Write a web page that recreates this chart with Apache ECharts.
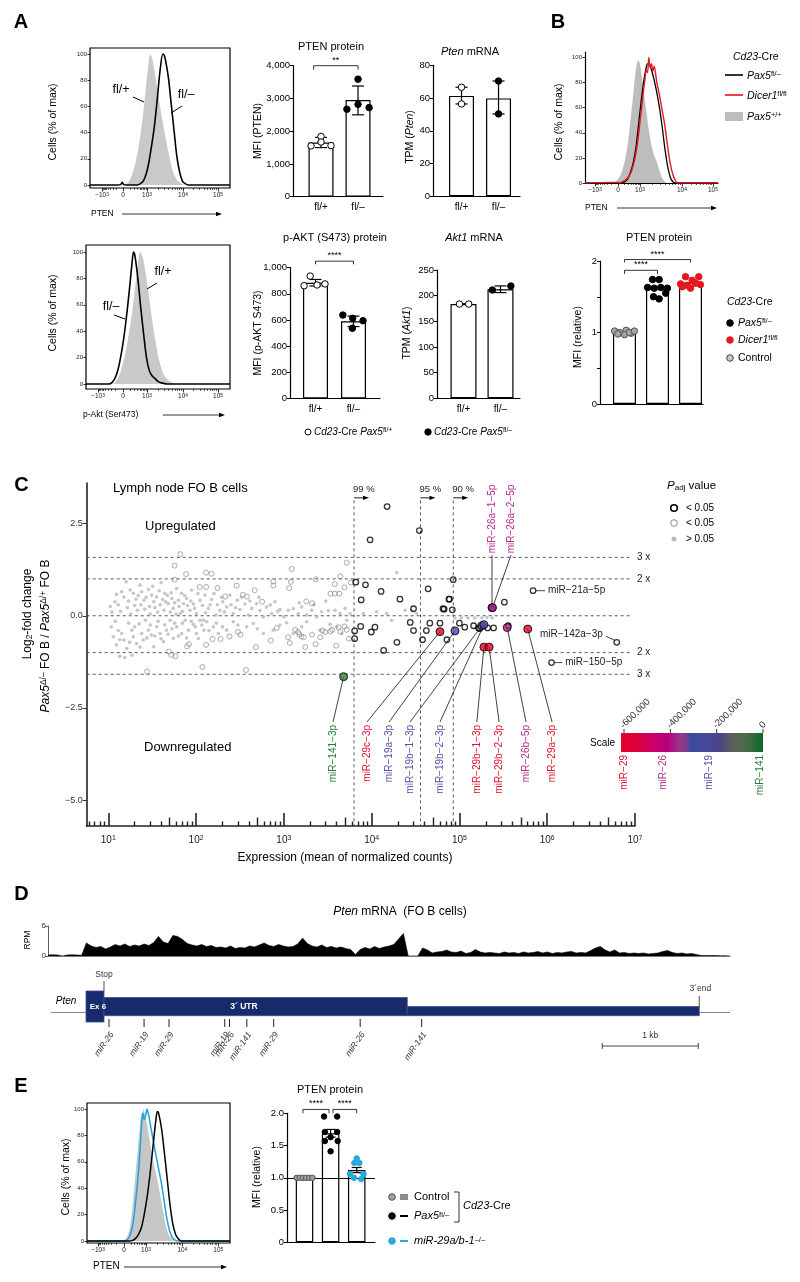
<!DOCTYPE html>
<html><head><meta charset="utf-8">
<script src="https://cdn.jsdelivr.net/npm/echarts@6/dist/echarts.min.js"></script>
<style>html,body{margin:0;padding:0;background:#fff}#c{width:800px;height:1282px}</style>
</head><body><div id="c"></div>
<script>
// ======================= DATA =======================
// ---- Panel A : PTEN protein (MFI) ----
const aCats = ['fl/+', 'fl/–'];
const aPtenMean = [1655, 2950];
const aPtenLo = [1500, 2500];
const aPtenHi = [1810, 3380];
const aPtenFlPlus = [1840, 1550, 1670, 1560];
const aPtenFlMinus = [3590, 2670, 2820, 2720];
// ---- Pten mRNA (TPM) ----
const aPtenMrnaMean = [61.3, 59.8];
const aPtenMrnaLo = [56.4, 50.3];
const aPtenMrnaHi = [66.6, 70.4];
const aPtenMrnaFlPlus = [66.6, 56.4];
const aPtenMrnaFlMinus = [70.4, 50.3];
// ---- p-AKT (S473) protein ----
const aAktMean = [885, 590];
const aAktLo = [860, 550];
const aAktHi = [910, 630];
const aAktFlPlus = [862, 936, 868, 876];
const aAktFlMinus = [638, 613, 595, 537];
// ---- Akt1 mRNA ----
const aAkt1Mean = [183.7, 212.3];
const aAkt1Lo = [183.7, 206];
const aAkt1Hi = [183.7, 219];
const aAkt1FlPlus = [183.7, 183.7];
const aAkt1FlMinus = [211, 218.8];
// ---- Panel B : PTEN relative MFI ----
const bMean = [1.0, 1.61, 1.70];
const bControl = [1.02, 1.0, 1.03, 0.99, 0.98, 0.97, 1.0, 1.02];
const bPax5 = [1.74, 1.74, 1.63, 1.62, 1.63, 1.62, 1.50, 1.47, 1.55];
const bDicer = [1.78, 1.73, 1.78, 1.68, 1.66, 1.69, 1.64, 1.62, 1.67];
// ---- Panel E : PTEN relative MFI ----
const eMean = [1.0, 1.69, 1.12];
const eLo = [1.0, 1.63, 1.08];
const eHi = [1.0, 1.75, 1.16];
const eControl = [1.0, 1.0, 1.0, 1.0, 1.0, 1.0];
const ePax5 = [1.95, 1.95, 1.71, 1.71, 1.63, 1.57, 1.57, 1.41];
const eMir29 = [1.30, 1.23, 1.23, 1.06, 1.06, 1.0, 0.98];
// ---- Flow histograms: [channel (0-100 display scale), % of max] ----
const flowTickLabels = ['−10|3', '0', '10|3', '10|4', '10|5'];
const hATopGray = [[20,0],[24,0],[26,1],[28,3],[30,8],[32,15],[34,25],[36,38],[38,55],[40,75],[42,95],[43,100],[44,98],[46,88],[48,74],[50,60],[52,48],[54,36],[56,25],[58,15],[60,8],[62,4],[64,2],[66,0.5],[68,0]];
const hATopBlack = [[0,0],[20,0],[22,0.5],[23,2],[24,0.5],[26,0],[34,0],[36,1],[38,3],[40,8],[42,17],[44,30],[46,45],[48,65],[50,87],[52,100],[53,99],[54,95],[56,82],[58,62],[60,42],[62,22],[64,10],[66,3],[68,1],[70,0],[100,0]];
const hABotGray = [[18,0],[20,1],[22,4],[24,9],[26,17],[28,27],[30,40],[32,54],[34,72],[36,90],[37.5,100],[39,97],[40,93],[42,80],[44,64],[46,48],[48,34],[50,22],[52,13],[54,7],[56,4],[58,2],[60,1],[62,0]];
const hABotBlack = [[0,0],[16,0],[18,1],[20,4],[22,10],[24,20],[26,33],[28,50],[30,70],[32,92],[33,100],[34,97],[36,80],[38,58],[40,38],[42,20],[44,10],[46,6],[48,4],[50,2],[52,1],[56,0],[100,0]];
const hBGray = [[22,0],[24,2],[26,5],[28,10],[30,18],[32,30],[34,48],[36,68],[38,88],[40,98],[41,96],[42,90],[44,75],[46,58],[48,42],[50,30],[52,22],[54,17],[56,10],[58,4],[60,1],[62,0]];
const hBBlack = [[0,0],[28,0],[30,1],[32,3],[34,8],[36,15],[38,26],[40,44],[42,63],[44,80],[46,92],[47,95],[48,95],[50,90],[52,82],[54,72],[56,60],[58,45],[60,28],[62,14],[64,5],[66,1],[68,0],[100,0]];
const hBRed = [[0,0],[20,0.5],[24,0.5],[26,0],[28,1],[30,2],[32,4],[34,7],[36,13],[38,22],[40,36],[42,55],[44,74],[45,82],[46,90],[47,88],[48,100],[49,92],[50,95],[51,89],[52,93],[54,80],[56,70],[58,58],[60,46],[62,30],[64,16],[66,7],[68,2],[70,0],[100,0]];
const hEGray = [[24,0],[26,0.5],[28,3],[30,10],[32,28],[34,52],[36,75],[37,88],[38,97],[38.7,92],[39.4,100],[40.5,96],[42,88],[44,75],[46,62],[48,52],[50,42],[52,30],[54,18],[56,8],[58,3],[60,1],[62,0]];
const hECyan = [[0,0],[26,0],[28,1],[30,4],[32,12],[34,30],[36,52],[37,68],[38,85],[39,97],[40,92],[41,95],[42,100],[43,96],[44,90],[46,78],[48,66],[50,55],[52,44],[54,30],[56,16],[58,7],[60,2],[62,0.5],[64,0],[100,0]];
const hEBlack = [[0,0],[30,0],[32,0.5],[34,2],[36,5],[38,10],[40,20],[42,33],[44,50],[46,70],[48,90],[49.2,98],[50,97],[52,86],[54,68],[56,48],[58,28],[60,13],[62,5],[64,1.5],[66,0],[100,0]];
// ---- Panel C : MA plot, [mean normalized counts, log2 fold change] ----
const cNonSig = [[16,0.92],[12.4,0.58],[11.9,0.38],[14.2,0.65],[15.1,0.51],[17.7,0.70],[19.3,0.61],[20.7,0.45],[23,0.83],[24,0.65],[25.5,0.42],[28.6,0.71],[31.2,0.56],[33,0.38],[35.5,0.51],[38,0.68],[41.6,0.44],[44,0.61],[48,0.33],[53,0.47],[55,0.2],[60,0.74],[63,0.42],[66,0.06],[68.5,0.61],[72,0.33],[78,0.47],[85,0.15],[89,0.70],[93,0.32],[101,0.06],[111,0.42],[121,-0.12],[126,0.56],[138,0.2],[150,0.44],[169,0.02],[187,0.15],[201,0.38],[223,0.24],[243,0.56],[265,0.06],[295,0.42],[316,0.17],[361,0.32],[394,0.02],[430,0.2],[490,0.33],[535,0.14],[583,-0.03],[637,0.24],[726,0.06],[793,0.38],[904,0.17],[1000,-0.03],[1125,0.15],[1282,0.19],[1462,0.06],[1596,0.24],[1820,0.02],[2075,0.15],[2366,-0.03],[2698,0.11],[3214,0.14],[3828,0.15],[4365,0.06],[4977,0.2],[5675,0.06],[19280,1.17],[23990,0.15],[28580,0.15],[32600,0.06],[8035,0.06],[11400,0.11],[14830,0.06],[16900,-0.12],
 [11.4,-0.57],[12.4,-0.79],[14.2,-0.48],[15.1,-0.66],[16.2,-0.89],[18.5,-0.39],[19.3,-0.57],[21,-0.75],[24,-0.48],[25,-0.66],[28.6,-0.39],[31,-0.52],[33,-0.84],[35.5,-0.3],[38.8,-0.48],[42.4,-0.70],[46,-0.39],[50.5,-0.12],[55,-0.61],[60,-0.3],[68.5,-0.48],[75,-0.12],[82,-0.39],[93,-0.23],[101,-0.48],[111,-0.12],[116,-0.25],[123,-0.39],[132,-0.16],[157,-0.3],[179,-0.48],[223,-0.39],[265,-0.16],[377,-0.3],[449,-0.21],[583,-0.48],[759,-0.39],[1076,-0.19],[1282,-0.48],[1820,-0.16],[2582,-0.39],[3357,-0.23],[4000,-0.3],[5200,-0.12],[4560,-0.48],[13.5,-1.1],[15.4,-1.13],[18.6,-1.07],
 [10.5,0.25],[11,0.1],[13,0.3],[13.8,0.12],[16.5,0.22],[17,0.4],[18,0.05],[20,0.28],[21.5,0.15],[22,0.55],[23.5,0.3],[26,0.18],[27,0.5],[29.5,0.25],[30,0.05],[32,0.8],[34,0.22],[36.5,0.1],[39,0.3],[40,0.9],[43,0.15],[45,0.38],[47,0.55],[51,0.1],[52,0.62],[57,0.35],[59,0.05],[64,0.25],[70,0.12],[74,0.55],[80,0.28],[87,0.4],[96,0.2],[105,0.6],[118,0.28],[128,0.08],[145,0.3],[160,0.6],[175,0.3],[195,0.5],[210,0.1],[250,0.3],[280,0.22],[330,0.5],[410,0.4],[520,0.5],[700,0.3],[850,0.12],[1500,0.35],[2200,0.3],[3000,0.4],
 [10.8,-0.3],[12,-0.15],[13,-0.4],[13.5,-0.65],[17,-0.2],[17.5,-0.72],[20,-0.3],[22.5,-0.22],[23,-0.85],[26.5,-0.12],[27.5,-0.6],[30,-0.25],[34,-0.55],[37,-0.15],[40,-0.62],[44,-0.25],[48,-0.5],[53,-0.35],[57,-0.2],[63,-0.55],[70,-0.2],[78,-0.6],[88,-0.15],[98,-0.3],[106,-0.62],[140,-0.4],[170,-0.2],[200,-0.3],[300,-0.25],[500,-0.35],[900,-0.25],[1600,-0.3],
 [89000,-0.06],[105000,-0.06],[125000,-0.06],[150000,-0.06],[180000,-0.06],[205000,-0.05],[235000,-0.06]];
const cSigWeak = [[66,1.67],[57,1.36],[77,1.13],[57,0.98],[130,1.17],[150,1.14],[1230,1.27],[5200,1.44],[110,0.78],[130,0.78],[175,0.75],[215,0.52],[290,0.82],[340,0.57],[380,0.52],[465,0.69],[565,0.38],[760,0.93],[760,0.82],[1150,0.75],[1200,0.92],[2300,0.99],[1800,0.39],[2100,0.34],[3400,0.6],[3800,0.6],[4300,0.6],[3800,0.86],[4400,1.07],[4900,0.77],[5800,0.9],
 [79,-0.83],[83,-0.77],[130,-0.79],[154,-0.63],[190,-0.63],[240,-0.56],[300,-0.44],[320,-0.51],[480,-0.85],[710,-0.67],[830,-0.33],[1120,-0.58],[1170,-0.74],[1350,-0.38],[1450,-0.44],[1500,-0.5],[1580,-0.56],[1680,-0.58],[1750,-0.85],[2090,-0.51],[2300,-0.77],[2600,-0.58],[2750,-0.4],[2950,-0.44],[3400,-0.42],[3550,-0.38],[3950,-0.81],[4200,-0.31],[4900,-0.29],[4400,-0.44],[5200,-0.38],[5500,-0.62],[49,-0.97],[52,-1.06],[58,-1.1],[27.7,-1.51],[118,-1.39],[370,-1.47]];
const cSigStrong = [[15000,2.96],[9600,2.06],[35000,2.31],[6600,0.91],[8500,0.84],[12800,0.66],[7600,0.43],[21000,0.45],[44000,0.73],[76000,0.45],[30000,0.19],[65000,0.19],[6400,-0.41],[6400,-0.62],[7500,-0.29],[9900,-0.44],[10900,-0.31],[13700,-0.94],[19400,-0.72],[27500,-0.18],[30000,-0.4],[38000,-0.65],[42000,-0.4],[46000,-0.2],[72000,-0.65],[85000,0.98],[77000,0.45],[67000,0.18],[83000,0.16],[60000,-0.2],[100000,-0.2],[115000,-0.31],[145000,-0.27],[165000,-0.33],[170000,-0.35],[210000,-0.33],[245000,-0.33],[325000,0.37],[360000,-0.27],[690000,0.68],[6200000,-0.72],[1120000,-1.27]];
const cMirNames = ['miR−141−3p','miR−29c−3p','miR−19a−3p','miR−19b−1−3p','miR−19b−2−3p','miR−29b−1−3p','miR−29b−2−3p','miR−26b−5p','miR−29a−3p','miR−26a−1−5p','miR−26a−2−5p'];
const cMirFamily = ['141','29','19','19','19','29','29','26','29','26','26'];
const cMirExpr = [4800, 60000, 89000, 180000, 190000, 190000, 218000, 350000, 600000, 235000, 238000];
const cMirLfc = [-1.65, -0.43, -0.41, -0.27, -0.24, -0.85, -0.85, -0.32, -0.36, 0.22, 0.22];
const cNoteNames = ['miR−21a−5p', 'miR−142a−3p', 'miR−150−5p'];
const cNoteExpr = [690000, 6200000, 1120000];
const cNoteLfc = [0.68, -0.72, -1.27];
const cFoldLines = [3, 2, 1, 1/2, 1/3];
const cFoldLabels = ['3 x', '2 x', '', '2 x', '3 x'];
const cPctExpr = [6300, 36000, 85000];
const cPctLabels = ['99 %', '95 %', '90 %'];
const scaleTicks = [-600000, -400000, -200000, 0];
const scaleFamilies = ['miR−29', 'miR−26', 'miR−19', 'miR−141'];
const scaleFamilyValue = [-600000, -432000, -233000, -13000];
// ---- Panel D : RNA-seq coverage (RPM) in 0.05 kb bins from 0 kb ----
const dCovStepKb = 0.05;
const dCoverage = [0.2,0.25,0.2,0,0.2,0.25,0.2,0.15,2.6,2.0,1.7,1.9,1.4,1.8,2.3,2.0,2.4,1.9,2.2,2.0,2.4,2.1,2.7,3.9,2.8,2.5,4.1,3.9,3.3,2.5,2.2,2.0,2.3,1.9,2.1,1.7,1.8,1.6,2.0,1.5,1.7,1.6,2.0,1.8,2.2,2.6,2.1,1.9,2.3,2.0,1.8,1.9,2.4,3.6,2.5,2.0,1.8,2.2,1.7,1.9,1.6,1.8,1.5,1.3,0.3,1.3,1.7,1.4,1.9,1.5,1.8,2.0,2.3,3.4,4.5,0,0,0,1.6,1.2,0.6,0.8,0.9,1.2,0.8,0.7,1.0,0.5,0.7,1.3,0.8,0.6,0.7,0.6,0.5,0.8,0.6,0.7,0.5,0.8,0.6,0.7,0.9,0.6,0.8,0.5,0.7,0.6,0.8,0.9,0.6,0.7,0.6,1.1,1.6,1.9,1.2,0.8,1.2,0.6,0.7,0.5,0.6,0.5,0.6,0.4,0.5,0.6,0.9,1.1,0.7,0.5,0.6,0.4,0.5,0.3,0.1,0.1,0.1,0.1,0.05,0.05,0];
const dGeneSpan = [0.03, 7.1];
const dExon6 = [0.396, 0.583];
const dUtrThick = [0.583, 3.74];
const dUtrThin = [3.74, 6.78];
const dStopKb = 0.583;
const dEndKb = 6.78;
const dSitesKb = [0.635, 1.0, 1.26, 1.84, 1.89, 2.07, 2.35, 3.25, 3.89];
const dSiteNames = ['miR-26','miR-19','miR-29','miR-19','miR-26','miR-141','miR-29','miR-26','miR-141'];
const dScaleBarKb = [5.77, 6.77];

// ======================= LAYOUT / STYLE =======================
const F = '"Liberation Sans", Arial, Helvetica, sans-serif';
const grid = [], xAxis = [], yAxis = [], series = [], graphic = [];
const famColor = {'29':'#e5102d','26':'#b8288f','19':'#5a50a8','141':'#287a3c'};
const famFill = {'29':'#e3001f','26':'#a0207f','19':'#4d4aa0','141':'#2f7d3a'};

function rich(s, color) {
  const c = color || '#000';
  return {
    n:{fontSize:s, fontFamily:F, fill:c, color:c},
    i:{fontSize:s, fontFamily:F, fontStyle:'italic', fill:c, color:c},
    b:{fontSize:s, fontFamily:F, fontWeight:'bold', fill:c, color:c},
    sup:{fontSize:s*0.7, fontFamily:F, verticalAlign:'top', fill:c, color:c},
    isup:{fontSize:s*0.7, fontFamily:F, fontStyle:'italic', verticalAlign:'top', fill:c, color:c},
    sub:{fontSize:s*0.7, fontFamily:F, verticalAlign:'bottom', fill:c, color:c}
  };
}
function txt(x, y, text, o) {
  o = o || {};
  const st = {text, fontFamily:F, fontSize:o.size || 10, fill:o.color || '#000', align:o.align || 'center',
    verticalAlign:o.va || 'middle', fontWeight:o.weight || 'normal', fontStyle:o.fstyle || 'normal'};
  if (o.rich) st.rich = rich(o.size || 10, o.color);
  graphic.push({type:'text', x, y, rotation:o.rot || 0, z:20, silent:true, style:st});
}
function gline(x1, y1, x2, y2, w, color) {
  graphic.push({type:'line', z:20, silent:true, shape:{x1, y1, x2, y2}, style:{stroke:color || '#000', lineWidth:w || 1}});
}
function arrow(x1, x2, y) {
  gline(x1, y, x2 - 4, y, 0.8);
  graphic.push({type:'polygon', z:20, silent:true, shape:{points:[[x2, y], [x2 - 6, y - 2.2], [x2 - 6, y + 2.2]]}, style:{fill:'#000'}});
}
function circ(x, y, r, fill, stroke, w) {
  graphic.push({type:'circle', z:20, silent:true, shape:{cx:x, cy:y, r}, style:{fill, stroke, lineWidth:w || 1}});
}
function rect(x, y, w, h, fill) {
  graphic.push({type:'rect', z:20, silent:true, shape:{x, y, width:w, height:h}, style:{fill}});
}

// ---------- bar panels ----------
function errRender(capW) {
  return function (params, api) {
    const x = api.value(0);
    const lo = api.coord([x, api.value(1)]), hi = api.coord([x, api.value(2)]);
    const s = {stroke:'#000', lineWidth:1.2};
    return {type:'group', children:[
      {type:'line', shape:{x1:lo[0], y1:lo[1], x2:hi[0], y2:hi[1]}, style:s},
      {type:'line', shape:{x1:lo[0] - capW / 2, y1:lo[1], x2:lo[0] + capW / 2, y2:lo[1]}, style:s},
      {type:'line', shape:{x1:hi[0] - capW / 2, y1:hi[1], x2:hi[0] + capW / 2, y2:hi[1]}, style:s}]};
  };
}
function sigRender(texts) {
  return function (params, api) {
    const a = api.coord([api.value(0), api.value(2)]), b = api.coord([api.value(1), api.value(2)]);
    const t = api.coord([api.value(0), api.value(3)]);
    return {type:'group', children:[
      {type:'polyline', shape:{points:[[a[0], t[1]], a, b, [b[0], t[1]]]}, style:{stroke:'#000', lineWidth:0.8, fill:'none'}},
      {type:'text', x:(a[0] + b[0]) / 2, y:a[1] - 1, style:{text:texts[params.dataIndex], fontFamily:F, fontSize:9, fill:'#000', align:'center', verticalAlign:'bottom'}}]};
  };
}
function addBarPanel(p) {
  const gi = grid.length, xi = xAxis.length, yi = yAxis.length;
  grid.push({left:p.left, top:p.top, width:p.width, height:p.height});
  xAxis.push({gridIndex:gi, type:'value', min:p.xMin, max:p.xMax, splitLine:{show:false},
    axisLine:{show:true, onZero:false, lineStyle:{color:'#000', width:1.2}}, axisTick:{show:false},
    axisLabel:{show:!!p.cats, customValues:p.means.map((m, i) => i + 1), formatter:v => p.cats ? p.cats[Math.round(v) - 1] : '',
      fontFamily:F, fontSize:10, color:'#000', margin:6}});
  yAxis.push({gridIndex:gi, type:'value', min:p.yMin, max:p.yMax, interval:p.yInt, splitLine:{show:false},
    axisLine:{show:true, onZero:false, lineStyle:{color:'#000', width:1.2}},
    axisTick:{show:true, length:3, lineStyle:{color:'#000', width:1}},
    axisLabel:{formatter:p.yFmt, fontFamily:F, fontSize:9.5, color:'#000', margin:3}});
  series.push({type:'bar', xAxisIndex:xi, yAxisIndex:yi, barWidth:p.barW, z:2, silent:true,
    data:p.means.map((m, i) => [i + 1, m]), itemStyle:{color:'#fff', borderColor:'#000', borderWidth:1.2},
    markLine:p.refLine ? {silent:true, symbol:'none', label:{show:false}, lineStyle:{color:'#000', width:1, type:'solid'}, data:[{yAxis:p.refLine}]} : undefined});
  if (p.lo) series.push({type:'custom', xAxisIndex:xi, yAxisIndex:yi, z:4, silent:true,
    data:p.lo.map((l, i) => [i + 1, l, p.hi[i]]), renderItem:errRender(p.capW || 10)});
  p.groups.forEach(g => series.push({type:'scatter', xAxisIndex:xi, yAxisIndex:yi, z:5, silent:true, symbol:'circle', symbolSize:g.size || 6,
    data:g.vals.map((v, k) => [g.x + g.jit[k], v]), itemStyle:{color:g.fill, borderColor:g.stroke, borderWidth:g.bw || 1, opacity:1}}));
  if (p.sig) series.push({type:'custom', xAxisIndex:xi, yAxisIndex:yi, z:6, silent:true, data:p.sig, renderItem:sigRender(p.sigText)});
}

// ---------- flow histograms ----------
const flowRich = {n:{fontSize:6.5, fontFamily:F, color:'#222'}, s:{fontSize:4.8, fontFamily:F, color:'#222', verticalAlign:'top'}};
function flowLabel(k) { const p = flowTickLabels[k].split('|'); return '{n|' + p[0] + '}' + (p[1] ? '{s|' + p[1] + '}' : ''); }
function flowMinor(m) {
  const out = [];
  [2, 3, 4, 5, 6, 7, 8, 9].forEach(k => {
    const f = Math.log10(k);
    out.push(m[1] - (m[1] - m[0]) * f, m[1] + (m[2] - m[1]) * f, m[2] + (m[3] - m[2]) * f, m[3] + (m[4] - m[3]) * f);
  });
  return out;
}
function addHist(h) {
  const gi = grid.length, xi = xAxis.length, yi = yAxis.length;
  grid.push({left:h.left, top:h.top, width:h.width, height:h.height, show:!!h.box, borderColor:'#000', borderWidth:1.2, backgroundColor:'rgba(0,0,0,0)'});
  xAxis.push({gridIndex:gi, type:'value', position:'bottom', min:0, max:100, splitLine:{show:false},
    axisLine:{show:!h.box, onZero:false, lineStyle:{color:'#000', width:1.2}},
    axisTick:{show:true, customValues:h.major, length:3.5, lineStyle:{color:'#000', width:0.8}},
    axisLabel:{customValues:h.major, formatter:v => { let k = 0, d = 1e9; h.major.forEach((m, j) => { if (Math.abs(m - v) < d) { d = Math.abs(m - v); k = j; } }); return flowLabel(k); },
      rich:flowRich, margin:4}});
  xAxis.push({gridIndex:gi, type:'value', position:'bottom', min:0, max:100, splitLine:{show:false}, axisLine:{show:false, onZero:false},
    axisTick:{show:true, customValues:flowMinor(h.major), length:2, lineStyle:{color:'#000', width:0.6}}, axisLabel:{show:false}});
  yAxis.push({gridIndex:gi, type:'value', min:h.yMin, max:h.yMax, splitLine:{show:false},
    axisLine:{show:!h.box, onZero:false, lineStyle:{color:'#000', width:1.2}},
    axisTick:{show:true, customValues:[0, 20, 40, 60, 80, 100], length:2.5, lineStyle:{color:'#000', width:0.8}},
    axisLabel:{customValues:[0, 20, 40, 60, 80, 100], fontFamily:F, fontSize:6, color:'#222', margin:3}});
  h.curves.forEach(c => series.push({type:'line', xAxisIndex:xi, yAxisIndex:yi, data:c.data, symbol:'none', smooth:0.3, z:c.z || 3, silent:true,
    lineStyle:{color:c.color, width:c.fill ? 0 : (c.w || 1.5)}, areaStyle:c.fill ? {color:c.fill, opacity:1} : undefined}));
}

// ======================= PANEL A =======================
txt(21, 22, 'A', {size:20, weight:'bold'});
addHist({left:90, top:48, width:140, height:140, box:true, yMin:-2.3, yMax:104.6, major:[8.6, 23.6, 40.7, 66.4, 91.4],
  curves:[{data:hATopGray, fill:'#c9c9c9', color:'#c9c9c9', z:2}, {data:hATopBlack, color:'#000', w:1.6}]});
txt(53, 122, 'Cells (% of max)', {size:10.5, rot:Math.PI / 2});
txt(91, 214, 'PTEN', {size:8.5, align:'left'}); arrow(122, 222, 214);
txt(121, 90, 'fl/+', {size:12.5}); gline(133, 97, 144, 102, 1);
txt(186, 95, 'fl/–', {size:12.5}); gline(182, 106, 171, 113, 1);

addBarPanel({left:293, top:65.7, width:90, height:131, xMin:0.243, xMax:2.675, yMin:0, yMax:4000, yInt:1000,
  yFmt:v => v.toLocaleString('en-US'), cats:aCats, means:aPtenMean, lo:aPtenLo, hi:aPtenHi, barW:25, capW:12,
  groups:[{x:1, vals:aPtenFlPlus, jit:[0, -0.27, 0, 0.27], fill:'#fff', stroke:'#000', size:6.5},
          {x:2, vals:aPtenFlMinus, jit:[0, -0.3, 0, 0.3], fill:'#000', stroke:'#000', size:6.5}],
  sig:[[0.8, 2.0, 4000, 3880]], sigText:['**']});
txt(331, 47, 'PTEN protein', {size:11});
txt(258, 131, 'MFI (PTEN)', {size:10.5, rot:Math.PI / 2});

addBarPanel({left:433, top:65.3, width:87, height:131, xMin:0.23, xMax:2.58, yMin:0, yMax:80, yInt:20,
  cats:aCats, means:aPtenMrnaMean, lo:aPtenMrnaLo, hi:aPtenMrnaHi, barW:25, capW:12,
  groups:[{x:1, vals:aPtenMrnaFlPlus, jit:[0, 0], fill:'#fff', stroke:'#000', size:6.5},
          {x:2, vals:aPtenMrnaFlMinus, jit:[0, 0], fill:'#000', stroke:'#000', size:6.5}]});
txt(470, 52, '{i|Pten}{n| mRNA}', {size:11, rich:true});
txt(410, 137, '{n|TPM (}{i|Pten}{n|)}', {size:10.5, rich:true, rot:Math.PI / 2});

addHist({left:86, top:245, width:144, height:144, box:true, yMin:-3.8, yMax:105.3, major:[8.3, 25.7, 42.4, 67.4, 91.7],
  curves:[{data:hABotGray, fill:'#c9c9c9', color:'#c9c9c9', z:2}, {data:hABotBlack, color:'#000', w:1.6}]});
txt(53, 313, 'Cells (% of max)', {size:10.5, rot:Math.PI / 2});
txt(83, 415, 'p-Akt (Ser473)', {size:8.5, align:'left'}); arrow(163, 225, 415);
txt(163, 272, 'fl/+', {size:12.5}); gline(157, 283, 147, 289, 1);
txt(111, 307, 'fl/–', {size:12.5}); gline(114, 315, 125, 319, 1);

addBarPanel({left:290, top:267.7, width:90, height:130.8, xMin:0.329, xMax:2.697, yMin:0, yMax:1000, yInt:200,
  yFmt:v => v.toLocaleString('en-US'), cats:aCats, means:aAktMean, lo:aAktLo, hi:aAktHi, barW:25, capW:12,
  groups:[{x:1, vals:aAktFlPlus, jit:[-0.3, -0.14, 0.04, 0.25], fill:'#fff', stroke:'#000', size:6.5},
          {x:2, vals:aAktFlMinus, jit:[-0.28, -0.02, 0.25, -0.03], fill:'#000', stroke:'#000', size:6.5}],
  sig:[[1, 2, 1050, 1026]], sigText:['****']});
txt(335, 238, 'p-AKT (S473) protein', {size:11});
txt(258, 333, 'MFI (p-AKT S473)', {size:10.5, rot:Math.PI / 2});

addBarPanel({left:437, top:270, width:83, height:128.3, xMin:0.284, xMax:2.527, yMin:0, yMax:250, yInt:50,
  cats:aCats, means:aAkt1Mean, lo:aAkt1Lo, hi:aAkt1Hi, barW:26, capW:12,
  groups:[{x:1, vals:aAkt1FlPlus, jit:[-0.11, 0.14], fill:'#fff', stroke:'#000', size:6.5},
          {x:2, vals:aAkt1FlMinus, jit:[-0.22, 0.28], fill:'#000', stroke:'#000', size:6.5}]});
txt(474, 238, '{i|Akt1}{n| mRNA}', {size:11, rich:true});
txt(407, 333, '{n|TPM (}{i|Akt1}{n|)}', {size:10.5, rich:true, rot:Math.PI / 2});

circ(308, 432, 3, '#fff', '#000', 1);
txt(314, 432, '{i|Cd23}{n|-Cre }{i|Pax5}{sup|fl/+}', {size:10, rich:true, align:'left'});
circ(428, 432, 3.2, '#000', '#000', 1);
txt(434, 432, '{i|Cd23}{n|-Cre }{i|Pax5}{sup|fl/–}', {size:10, rich:true, align:'left'});

// ======================= PANEL B =======================
txt(558, 22, 'B', {size:20, weight:'bold'});
addHist({left:585, top:52, width:133, height:131, box:false, yMin:0, yMax:104.4, major:[7.5, 24.8, 41.4, 72.9, 96.2],
  curves:[{data:hBGray, fill:'#bdbdbd', color:'#bdbdbd', z:2}, {data:hBBlack, color:'#000', w:1.3}, {data:hBRed, color:'#e4161e', w:1.4, z:4}]});
txt(559, 122, 'Cells (% of max)', {size:10.5, rot:Math.PI / 2});
txt(585, 208, 'PTEN', {size:8.5, align:'left'}); arrow(617, 717, 208);
txt(733, 57, '{i|Cd23}{n|-Cre}', {size:10.5, rich:true, align:'left'});
gline(725, 75, 743, 75, 1.6, '#000'); txt(747, 76, '{i|Pax5}{sup|fl/–}', {size:10.5, rich:true, align:'left'});
gline(725, 95, 743, 95, 1.6, '#e4161e'); txt(747, 96, '{i|Dicer1}{sup|fl/fl}', {size:10.5, rich:true, align:'left'});
rect(725, 112, 18, 9, '#bdbdbd'); txt(747, 117, '{i|Pax5}{sup|+/+}', {size:10.5, rich:true, align:'left'});

addBarPanel({left:600, top:261, width:103, height:143, xMin:0.258, xMax:3.379, yMin:0, yMax:2, yInt:0.5,
  yFmt:v => Number.isInteger(v) ? String(v) : '', means:bMean, barW:23,
  groups:[{x:1, vals:bControl, jit:[-0.3, -0.15, 0.05, 0.2, -0.2, 0, 0.15, 0.3], fill:'#a6a6a6', stroke:'#555', size:6.5},
          {x:2, vals:bPax5, jit:[-0.15, 0.05, -0.3, -0.1, 0.1, 0.3, -0.12, 0.05, 0.25], fill:'#000', stroke:'#000', size:6.5},
          {x:3, vals:bDicer, jit:[-0.15, 0.05, 0.25, -0.3, -0.1, 0.15, -0.25, 0, 0.3], fill:'#e4161e', stroke:'#e4161e', size:6.5}],
  sig:[[1, 2, 1.87, 1.82], [1, 3, 2.02, 1.98]], sigText:['****', '****']});
txt(659, 238, 'PTEN protein', {size:11});
txt(578, 337, 'MFI (relative)', {size:10.5, rot:Math.PI / 2});
txt(727, 302, '{i|Cd23}{n|-Cre}', {size:10.5, rich:true, align:'left'});
circ(730, 323, 3.3, '#000', '#000', 1); txt(738, 323, '{i|Pax5}{sup|fl/–}', {size:10.5, rich:true, align:'left'});
circ(730, 340, 3.3, '#e4161e', '#e4161e', 1); txt(738, 340, '{i|Dicer1}{sup|fl/fl}', {size:10.5, rich:true, align:'left'});
circ(730, 358, 3.3, '#c8c8c8', '#444', 1); txt(738, 358, 'Control', {size:10.5, align:'left'});

// ======================= PANEL C =======================
txt(21.5, 485, 'C', {size:20, weight:'bold'});
const L10 = v => Math.log10(v);
const cGi = grid.length, cXi = xAxis.length, cYi = yAxis.length;
const cXMin = 0.754, cXMax = 7, cYMin = -5.7, cYMax = 3.6;
grid.push({left:86.7, top:483, width:548.3, height:343});
const decadeTicks = [1, 2, 3, 4, 5, 6, 7];
const midTicks = [0, 1, 2, 3, 4, 5, 6].map(n => n + L10(5));
const minorTicks = [];
[0, 1, 2, 3, 4, 5, 6].forEach(n => [2, 3, 4, 6, 7, 8, 9].forEach(k => minorTicks.push(n + L10(k))));
xAxis.push({gridIndex:cGi, type:'value', position:'bottom', min:cXMin, max:cXMax, splitLine:{show:false},
  axisLine:{show:true, onZero:false, lineStyle:{color:'#222', width:1.6}},
  axisTick:{show:true, inside:true, customValues:decadeTicks, length:13, lineStyle:{color:'#222', width:1.6}},
  axisLabel:{customValues:decadeTicks, formatter:v => '{b|10}{s|' + Math.round(v) + '}', margin:9,
    rich:{b:{fontSize:10, fontFamily:F, color:'#222'}, s:{fontSize:7, fontFamily:F, color:'#222', verticalAlign:'top'}}}});
xAxis.push({gridIndex:cGi, type:'value', position:'bottom', min:cXMin, max:cXMax, splitLine:{show:false}, axisLine:{show:false, onZero:false},
  axisTick:{show:true, inside:true, customValues:midTicks, length:8.5, lineStyle:{color:'#222', width:1.4}}, axisLabel:{show:false}});
xAxis.push({gridIndex:cGi, type:'value', position:'bottom', min:cXMin, max:cXMax, splitLine:{show:false}, axisLine:{show:false, onZero:false},
  axisTick:{show:true, inside:true, customValues:minorTicks, length:4.5, lineStyle:{color:'#222', width:1.4}}, axisLabel:{show:false}});
yAxis.push({gridIndex:cGi, type:'value', min:cYMin, max:cYMax, splitLine:{show:false},
  axisLine:{show:true, onZero:false, lineStyle:{color:'#222', width:1.6}},
  axisTick:{show:true, customValues:[-5, -2.5, 0, 2.5], length:4, lineStyle:{color:'#333', width:1}},
  axisLabel:{customValues:[-5, -2.5, 0, 2.5], formatter:v => (v < 0 ? '−' : '') + Math.abs(v).toFixed(1), fontFamily:F, fontSize:9, color:'#333', margin:4}});
const cAx = {xAxisIndex:cXi, yAxisIndex:cYi};
const dashS = {stroke:'#444', lineWidth:0.9, lineDash:[3, 3]};
series.push(Object.assign({type:'custom', z:1, silent:true, data:cFoldLines.map(f => [cXMin, Math.log2(f)]),
  renderItem:(params, api) => {
    const y = api.value(1); const a = api.coord([cXMin, y]), b = api.coord([6.943, y]);
    return {type:'group', children:[{type:'line', shape:{x1:a[0], y1:a[1], x2:b[0], y2:b[1]}, style:dashS},
      {type:'text', x:b[0] + 7, y:b[1], style:{text:cFoldLabels[params.dataIndex], fontFamily:F, fontSize:10, fill:'#222', align:'left', verticalAlign:'middle'}}]};
  }}, cAx));
series.push(Object.assign({type:'custom', z:1, silent:true, data:cPctExpr.map(e => [L10(e), 3.13]),
  renderItem:(params, api) => {
    const x = api.value(0); const t = api.coord([x, 3.13]), b = api.coord([x, cYMin]);
    return {type:'group', children:[{type:'line', shape:{x1:t[0], y1:t[1], x2:b[0], y2:b[1]}, style:dashS},
      {type:'line', shape:{x1:t[0], y1:t[1] - 2.5, x2:t[0] + 10, y2:t[1] - 2.5}, style:{stroke:'#000', lineWidth:0.9}},
      {type:'polygon', shape:{points:[[t[0] + 15, t[1] - 2.5], [t[0] + 9, t[1] - 4.7], [t[0] + 9, t[1] - 0.3]]}, style:{fill:'#000'}},
      {type:'text', x:t[0] - 1, y:t[1] - 11, style:{text:cPctLabels[params.dataIndex], fontFamily:F, fontSize:9.5, fill:'#222', align:'left', verticalAlign:'middle'}}]};
  }}, cAx));
series.push(Object.assign({type:'scatter', z:2, silent:true, symbolSize:3.6, data:cNonSig.map(d => [L10(d[0]), d[1]]), itemStyle:{color:'#b8b8b8'}}, cAx));
series.push(Object.assign({type:'scatter', z:3, silent:true, symbolSize:5, data:cSigWeak.map(d => [L10(d[0]), d[1]]), itemStyle:{color:'rgba(255,255,255,0)', borderColor:'#8a8a8a', borderWidth:0.9}}, cAx));
series.push(Object.assign({type:'scatter', z:4, silent:true, symbolSize:5.5, data:cSigStrong.map(d => [L10(d[0]), d[1]]), itemStyle:{color:'rgba(255,255,255,0)', borderColor:'#000', borderWidth:1.3}}, cAx));
const cMirLabelAt = [[3630, -2.88], [8850, -2.88], [15800, -2.88], [27400, -2.88], [60100, -2.88], [158000, -2.88], [283000, -2.88], [574000, -2.88], [1135000, -2.88], [235000, 1.64], [386000, 1.64]];
series.push(Object.assign({type:'custom', z:5, silent:true, data:cMirExpr.map((e, i) => [L10(e), cMirLfc[i], L10(cMirLabelAt[i][0]), cMirLabelAt[i][1]]),
  renderItem:(params, api) => {
    const i = params.dataIndex;
    const p = api.coord([api.value(0), api.value(1)]), a = api.coord([api.value(2), api.value(3)]);
    const top = cMirLabelAt[i][1] > 0;
    return {type:'group', children:[{type:'line', shape:{x1:a[0], y1:a[1], x2:p[0], y2:p[1]}, style:{stroke:'#111', lineWidth:0.8}},
      {type:'text', x:a[0], y:top ? a[1] - 2 : a[1] + 3, rotation:Math.PI / 2,
       style:{text:cMirNames[i], fontFamily:F, fontSize:10, fill:famColor[cMirFamily[i]], align:top ? 'left' : 'right', verticalAlign:'middle'}}]};
  }}, cAx));
series.push(Object.assign({type:'scatter', z:6, silent:true, symbolSize:8,
  data:cMirExpr.map((e, i) => ({value:[L10(e), cMirLfc[i]], itemStyle:{color:famFill[cMirFamily[i]]}})), itemStyle:{borderColor:'#000', borderWidth:1}}, cAx));
const cNoteAt = [[1020000, 0.68], [4300000, -0.50], [1600000, -1.27]];
const cNoteSide = ['right', 'left', 'right'];
series.push(Object.assign({type:'custom', z:5, silent:true, data:cNoteExpr.map((e, i) => [L10(e), cNoteLfc[i], L10(cNoteAt[i][0]), cNoteAt[i][1]]),
  renderItem:(params, api) => {
    const i = params.dataIndex;
    const p = api.coord([api.value(0), api.value(1)]), a = api.coord([api.value(2), api.value(3)]);
    const r = cNoteSide[i] === 'right';
    return {type:'group', children:[{type:'line', shape:{x1:p[0] + (r ? 3 : -2), y1:p[1] + (r ? 0 : -2), x2:a[0] + (r ? -3 : 3), y2:a[1] + (r ? 0 : 2)}, style:{stroke:'#111', lineWidth:0.8}},
      {type:'text', x:a[0], y:a[1], style:{text:cNoteNames[i], fontFamily:F, fontSize:10, fill:'#222', align:r ? 'left' : 'right', verticalAlign:'middle'}}]};
  }}, cAx));
txt(113, 488, 'Lymph node FO B cells', {size:13, align:'left'});
txt(145, 526, 'Upregulated', {size:13, align:'left'});
txt(144, 747, 'Downregulated', {size:13, align:'left'});
txt(345, 858, 'Expression (mean of normalized counts)', {size:12});
txt(28, 614, '{n|Log}{sub|2}{n|-fold change}', {size:12, rich:true, rot:Math.PI / 2});
txt(46, 636, '{i|Pax5}{sup|Δ/–}{n| FO B / }{i|Pax5}{sup|Δ/+}{n| FO B}', {size:12, rich:true, rot:Math.PI / 2});
txt(667, 486, '{i|P}{sub|adj}{n| value}', {size:11.5, rich:true, align:'left'});
circ(674, 508, 3.3, '#fff', '#000', 1.6); txt(686, 508, '< 0.05', {size:10, align:'left'});
circ(674, 523, 3.3, '#fff', '#8a8a8a', 1); txt(686, 523, '< 0.05', {size:10, align:'left'});
circ(674, 539, 2.3, '#b8b8b8', '#b8b8b8', 0.5); txt(686, 539, '> 0.05', {size:10, align:'left'});
// colour scale (axis in scale units; ticks and labels drawn through the axis coordinates)
const sGi = grid.length, sXi = xAxis.length, sYi = yAxis.length;
grid.push({left:621, top:733, width:142, height:19});
xAxis.push({gridIndex:sGi, type:'value', min:-613000, max:0, show:false});
yAxis.push({gridIndex:sGi, type:'value', min:0, max:1, show:false});
const scaleItems = scaleTicks.map(v => ['tick', v]).concat(scaleFamilyValue.map(v => ['fam', v])).concat([['bar', -613000]]);
series.push({type:'custom', xAxisIndex:sXi, yAxisIndex:sYi, z:1, silent:true, data:scaleItems.map(s => [s[1], 0]),
  renderItem:(params, api) => {
    const cs = params.coordSys, it = scaleItems[params.dataIndex];
    const p = api.coord([api.value(0), 1]), q = api.coord([api.value(0), 0]);
    if (it[0] === 'bar') return {type:'rect', shape:{x:cs.x, y:cs.y, width:cs.width, height:cs.height},
      style:{fill:new echarts.graphic.LinearGradient(0, 0, 1, 0, [
        {offset:0, color:'#e4002b'}, {offset:0.12, color:'#dc0040'}, {offset:0.22, color:'#cc0066'}, {offset:0.33, color:'#b5007e'},
        {offset:0.42, color:'#963a8c'}, {offset:0.46, color:'#7a3c90'}, {offset:0.49, color:'#3c4a9c'}, {offset:0.6, color:'#44489a'},
        {offset:0.7, color:'#4c4684'}, {offset:0.78, color:'#58625a'}, {offset:0.88, color:'#4a6a48'}, {offset:1, color:'#0b6a2c'}])}};
    if (it[0] === 'tick') return {type:'group', children:[
      {type:'line', shape:{x1:p[0], y1:p[1], x2:p[0], y2:p[1] - 4}, style:{stroke:'#333', lineWidth:1}},
      {type:'text', x:p[0] - 2, y:p[1] - 6, rotation:Math.PI / 4, style:{text:it[1].toLocaleString('en-US'), fontFamily:F, fontSize:9.5, fill:'#333', align:'left', verticalAlign:'middle'}}]};
    const k = scaleFamilyValue.indexOf(it[1]);
    return {type:'group', z2:10, children:[
      {type:'line', shape:{x1:q[0], y1:q[1], x2:q[0], y2:q[1] - 5}, style:{stroke:'#fff', lineWidth:1.5}},
      {type:'text', x:q[0], y:q[1] + 3, rotation:Math.PI / 2, style:{text:scaleFamilies[k], fontFamily:F, fontSize:10, fill:famColor[['29', '26', '19', '141'][k]], align:'right', verticalAlign:'middle'}}]};
  }});
txt(615, 743, 'Scale', {size:10, align:'right'});

// ======================= PANEL D =======================
txt(21.5, 894, 'D', {size:20, weight:'bold'});
const dGi = grid.length, dXi = xAxis.length, dYi = yAxis.length;
grid.push({left:48, top:926, width:682, height:30});
xAxis.push({gridIndex:dGi, type:'value', min:0, max:7.1, splitLine:{show:false}, axisLine:{show:true, onZero:false, lineStyle:{color:'#777', width:1}}, axisTick:{show:false}, axisLabel:{show:false}});
yAxis.push({gridIndex:dGi, type:'value', min:0, max:6, splitLine:{show:false}, axisLine:{show:true, onZero:false, lineStyle:{color:'#333', width:0.8}},
  axisTick:{show:true, customValues:[0, 6], length:3, lineStyle:{color:'#333', width:0.8}},
  axisLabel:{customValues:[0, 6], fontFamily:F, fontSize:8, color:'#333', margin:2}});
series.push({type:'line', xAxisIndex:dXi, yAxisIndex:dYi, symbol:'none', silent:true, z:2,
  data:dCoverage.map((v, i) => [i * dCovStepKb, v]), lineStyle:{color:'#000', width:0.6}, areaStyle:{color:'#000', opacity:1}});
txt(28, 940, 'RPM', {size:8.5, rot:Math.PI / 2});
txt(400, 912, '{i|Pten}{n| mRNA  (FO B cells)}', {size:12, rich:true});
const gGi = grid.length, gXi = xAxis.length, gYi = yAxis.length;
grid.push({left:48, top:970, width:682, height:100});
xAxis.push({gridIndex:gGi, type:'value', min:0, max:7.1, show:false});
yAxis.push({gridIndex:gGi, type:'value', min:0, max:100, inverse:true, show:false});
const geneItems = [['span'].concat(dGeneSpan), ['exon'].concat(dExon6), ['utr'].concat(dUtrThick), ['utr3'].concat(dUtrThin),
  ['stop', dStopKb, dStopKb], ['end', dEndKb, dEndKb]].concat(dSitesKb.map((k, i) => ['site' + i, k, k])).concat([['scale'].concat(dScaleBarKb)]);
series.push({type:'custom', xAxisIndex:gXi, yAxisIndex:gYi, z:3, silent:true, data:geneItems.map(g => [g[1], g[2]]),
  renderItem:(params, api) => {
    const g = geneItems[params.dataIndex], kind = g[0];
    const a = api.coord([api.value(0), 0]), b = api.coord([api.value(1), 0]);
    const y0 = a[1]; const navy = '#172a6c';
    if (kind === 'span') return {type:'line', shape:{x1:a[0], y1:y0 + 42.5, x2:b[0], y2:y0 + 42.5}, style:{stroke:'#8a8a8a', lineWidth:1.2}};
    if (kind === 'exon') return {type:'rect', shape:{x:a[0], y:y0 + 21, width:b[0] - a[0], height:31}, style:{fill:navy, stroke:'#3b4c8a', lineWidth:0.8}};
    if (kind === 'utr') return {type:'rect', shape:{x:a[0], y:y0 + 27.5, width:b[0] - a[0], height:18.2}, style:{fill:navy, stroke:'#3b4c8a', lineWidth:0.8}};
    if (kind === 'utr3') return {type:'rect', shape:{x:a[0], y:y0 + 36.6, width:b[0] - a[0], height:9.1}, style:{fill:navy, stroke:'#3b4c8a', lineWidth:0.8}};
    if (kind === 'stop') return {type:'group', children:[{type:'line', shape:{x1:a[0], y1:y0 + 11, x2:a[0], y2:y0 + 21}, style:{stroke:'#222', lineWidth:0.8}},
      {type:'text', x:a[0], y:y0 + 5, style:{text:'Stop', fontFamily:F, fontSize:8.5, fill:'#333', align:'center', verticalAlign:'middle'}}]};
    if (kind === 'end') return {type:'group', children:[{type:'line', shape:{x1:a[0], y1:y0 + 26, x2:a[0], y2:y0 + 37}, style:{stroke:'#222', lineWidth:0.8}},
      {type:'text', x:a[0] + 1, y:y0 + 19, style:{text:'3´end', fontFamily:F, fontSize:8.5, fill:'#333', align:'center', verticalAlign:'middle'}}]};
    if (kind === 'scale') return {type:'group', children:[{type:'line', shape:{x1:a[0], y1:y0 + 76, x2:b[0], y2:y0 + 76}, style:{stroke:'#333', lineWidth:0.9}},
      {type:'line', shape:{x1:a[0], y1:y0 + 73, x2:a[0], y2:y0 + 79}, style:{stroke:'#333', lineWidth:0.9}},
      {type:'line', shape:{x1:b[0], y1:y0 + 73, x2:b[0], y2:y0 + 79}, style:{stroke:'#333', lineWidth:0.9}},
      {type:'text', x:(a[0] + b[0]) / 2, y:y0 + 66, style:{text:'1 kb', fontFamily:F, fontSize:8.5, fill:'#333', align:'center', verticalAlign:'middle'}}]};
    const si = +kind.slice(4);
    return {type:'group', children:[{type:'line', shape:{x1:a[0], y1:y0 + 49, x2:a[0], y2:y0 + 57}, style:{stroke:'#222', lineWidth:1}},
      {type:'text', x:a[0] + 3, y:y0 + 63, rotation:55 * Math.PI / 180, style:{text:dSiteNames[si], fontFamily:F, fontSize:8.5, fontStyle:'italic', fill:'#333', align:'right', verticalAlign:'middle'}}]};
  }});
txt(66, 1001, 'Pten', {size:10, fstyle:'italic'});
txt(98, 1007, 'Ex 6', {size:8, weight:'bold', color:'#fff'});
txt(244, 1007, '3´ UTR', {size:8.5, weight:'bold', color:'#fff'});

// ======================= PANEL E =======================
txt(21, 1086, 'E', {size:20, weight:'bold'});
addHist({left:87, top:1103, width:143, height:140, box:true, yMin:-1.5, yMax:104.5, major:[7.7, 26, 41.3, 66.7, 91.8],
  curves:[{data:hEGray, fill:'#c6c6c6', color:'#c6c6c6', z:2}, {data:hECyan, color:'#1fa3dc', w:1.5, z:3}, {data:hEBlack, color:'#000', w:1.5, z:4}]});
txt(66, 1177, 'Cells (% of max)', {size:10.5, rot:Math.PI / 2});
txt(93, 1266, 'PTEN', {size:10, align:'left'}); arrow(124, 227, 1267);
addBarPanel({left:287, top:1113.3, width:88, height:129, xMin:0.33, xMax:3.70, yMin:0, yMax:2, yInt:0.5,
  yFmt:v => v === 0 ? '0' : v.toFixed(1), means:eMean, lo:eLo, hi:eHi, barW:17.5, capW:10, refLine:1,
  groups:[{x:1, vals:eControl, jit:[-0.3, -0.18, -0.06, 0.06, 0.18, 0.3], fill:'#a0a0a0', stroke:'#555', size:5.5},
          {x:2, vals:ePax5, jit:[-0.25, 0.25, -0.22, 0.25, 0, -0.22, 0.27, 0], fill:'#000', stroke:'#000', size:5.5},
          {x:3, vals:eMir29, jit:[0, -0.09, 0.1, -0.26, 0.26, -0.1, 0.17], fill:'#29a8e0', stroke:'#29a8e0', size:5.5}],
  sig:[[0.94, 1.94, 2.06, 2.0], [2.09, 3.0, 2.06, 2.0]], sigText:['****', '****']});
txt(330, 1090, 'PTEN protein', {size:11});
txt(257, 1177, 'MFI (relative)', {size:10.5, rot:Math.PI / 2});
circ(392, 1197, 3.3, '#a0a0a0', '#555', 1); rect(400, 1194, 8, 6, '#8c8c8c'); txt(414, 1197, 'Control', {size:11, align:'left'});
circ(392, 1216, 3.3, '#000', '#000', 1); gline(400, 1216, 408, 1216, 2, '#000'); txt(414, 1216, '{i|Pax5}{sup|fl/–}', {size:11, rich:true, align:'left'});
circ(392, 1241, 3.3, '#29a8e0', '#29a8e0', 1); gline(400, 1241, 408, 1241, 2, '#29a8e0'); txt(414, 1241, '{i|miR-29a/b-1}{sup|–/–}', {size:11, rich:true, align:'left'});
graphic.push({type:'polyline', z:20, silent:true, shape:{points:[[454, 1192], [459, 1192], [459, 1222], [454, 1222]]}, style:{stroke:'#000', lineWidth:0.8, fill:'none'}});
txt(463, 1206, '{i|Cd23}{n|-Cre}', {size:11, rich:true, align:'left'});

// ======================= RENDER =======================
const chart = echarts.init(document.getElementById('c'), null, {renderer:'canvas'});
chart.setOption({animation:false, backgroundColor:'#fff', textStyle:{fontFamily:F}, grid, xAxis, yAxis, series, graphic});
</script></body></html>
